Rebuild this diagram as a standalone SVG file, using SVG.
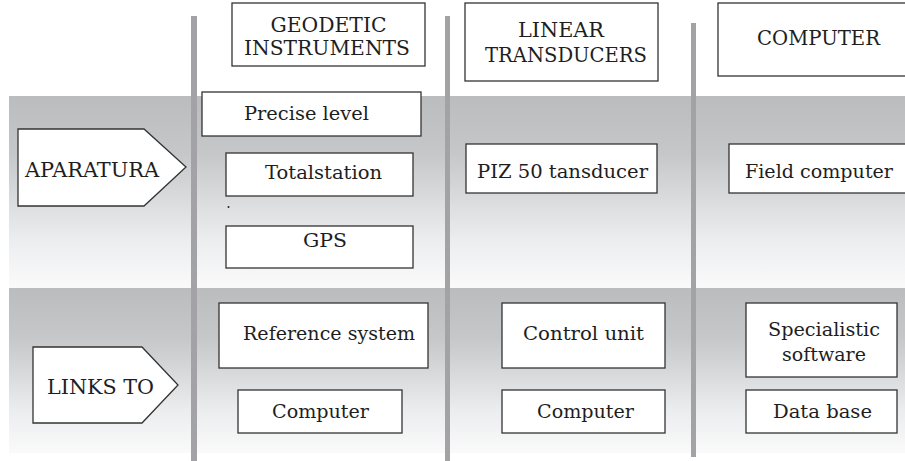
<svg xmlns="http://www.w3.org/2000/svg" width="905" height="461" viewBox="0 0 905 461">
<defs>
<linearGradient id="band" x1="0" y1="0" x2="0" y2="1">
<stop offset="0" stop-color="#bbbcbe"/>
<stop offset="0.3" stop-color="#c6c7c9"/>
<stop offset="0.75" stop-color="#ecedef"/>
<stop offset="1" stop-color="#fafafa"/>
</linearGradient>
<style>
.box{fill:#fff;stroke:#333;stroke-width:1.3}
.vl{fill:#a3a3a7}
</style>
</defs>
<g id="bands">
<rect x="9" y="96" width="896" height="192" fill="url(#band)"/>
<rect x="9" y="288" width="896" height="165" fill="url(#band)"/>
</g>
<g id="dividers">
<rect class="vl" x="191" y="16" width="6" height="445"/>
<rect class="vl" x="445" y="16" width="5" height="445"/>
<rect class="vl" x="691" y="23" width="5" height="434"/>
</g>
<g id="connectors"></g>
<g id="nodes" font-family="DejaVu Serif, Liberation Serif, serif" fill="#1e1e1e" text-anchor="middle">
<g id="hdr-geodetic" font-size="20">
<rect class="box" x="232" y="3" width="193" height="63"/>
<text x="328.5" y="32" textLength="116" lengthAdjust="spacingAndGlyphs">GEODETIC</text>
<text x="327" y="55" textLength="166" lengthAdjust="spacingAndGlyphs">INSTRUMENTS</text>
</g>
<g id="hdr-linear" font-size="20">
<rect class="box" x="465" y="3" width="193" height="78"/>
<text x="561" y="37" textLength="86" lengthAdjust="spacingAndGlyphs">LINEAR</text>
<text x="566" y="62" textLength="162" lengthAdjust="spacingAndGlyphs">TRANSDUCERS</text>
</g>
<g id="hdr-computer" font-size="20">
<rect class="box" x="718" y="3" width="200" height="73"/>
<text x="818.5" y="45" textLength="123" lengthAdjust="spacingAndGlyphs">COMPUTER</text>
</g>
<g id="aparatura" font-size="20">
<path class="box" d="M18,129 H144 L186,167 L144,206 H18 Z"/>
<text x="92" y="177" textLength="134" lengthAdjust="spacingAndGlyphs">APARATURA</text>
</g>
<g id="links-to" font-size="20">
<path class="box" d="M33,347 H142 L178,385 L142,423 H33 Z"/>
<text x="100.5" y="394" textLength="107" lengthAdjust="spacingAndGlyphs">LINKS TO</text>
</g>
<g id="precise-level" font-size="19">
<rect class="box" x="202" y="92" width="219" height="44"/>
<text x="306.5" y="120" textLength="125" lengthAdjust="spacingAndGlyphs">Precise level</text>
</g>
<g id="totalstation" font-size="19">
<rect class="box" x="226" y="153" width="187" height="43"/>
<text x="323.5" y="179" textLength="117" lengthAdjust="spacingAndGlyphs">Totalstation</text>
<circle cx="228.5" cy="207" r="1" fill="#222"/>
</g>
<g id="gps" font-size="19">
<rect class="box" x="226" y="226" width="187" height="42"/>
<text x="325" y="247" textLength="44" lengthAdjust="spacingAndGlyphs">GPS</text>
</g>
<g id="piz50" font-size="19">
<rect class="box" x="466" y="144" width="191" height="49"/>
<text x="562.5" y="178" textLength="171" lengthAdjust="spacingAndGlyphs">PIZ 50 tansducer</text>
</g>
<g id="field-computer" font-size="19">
<rect class="box" x="729" y="144" width="190" height="49"/>
<text x="819" y="178" textLength="148" lengthAdjust="spacingAndGlyphs">Field computer</text>
</g>
<g id="reference-system" font-size="19">
<rect class="box" x="219" y="303" width="209" height="65"/>
<text x="329" y="340" textLength="172" lengthAdjust="spacingAndGlyphs">Reference system</text>
</g>
<g id="computer-geo" font-size="19">
<rect class="box" x="238" y="390" width="164" height="43"/>
<text x="320.5" y="418" textLength="97" lengthAdjust="spacingAndGlyphs">Computer</text>
</g>
<g id="control-unit" font-size="19">
<rect class="box" x="502" y="303" width="163" height="65"/>
<text x="583.5" y="340" textLength="121" lengthAdjust="spacingAndGlyphs">Control unit</text>
</g>
<g id="computer-lin" font-size="19">
<rect class="box" x="502" y="390" width="163" height="43"/>
<text x="585.5" y="418" textLength="97" lengthAdjust="spacingAndGlyphs">Computer</text>
</g>
<g id="specialistic-software" font-size="19">
<rect class="box" x="746" y="303" width="151" height="74"/>
<text x="824" y="336" textLength="112" lengthAdjust="spacingAndGlyphs">Specialistic</text>
<text x="824" y="361" textLength="84" lengthAdjust="spacingAndGlyphs">software</text>
</g>
<g id="data-base" font-size="19">
<rect class="box" x="746" y="390" width="151" height="43"/>
<text x="822.5" y="418" textLength="99" lengthAdjust="spacingAndGlyphs">Data base</text>
</g>
</g>
</svg>
